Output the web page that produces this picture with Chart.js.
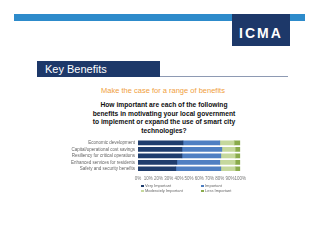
<!DOCTYPE html>
<html lang="en">
<head>
  <meta charset="UTF-8" />
  <title>Key Benefits</title>
  <script src="https://cdn.jsdelivr.net/npm/chart.js"></script>
  <style>
    body { margin: 0; width: 320px; height: 247px; background: #fff; position: relative; overflow: hidden; font-family: "Liberation Sans", Arial, sans-serif; }
    .abs { position: absolute; }
    #topbar { left: 14px; top: 14px; width: 291px; height: 7px; background: #2d8bcb; }
    #logo { left: 232px; top: 14px; width: 58px; height: 32px; background: #1d3869; color: #fff; font-weight: bold; font-size: 14px; letter-spacing: 2px; text-align: center; line-height: 38px; }
    #keybox { left: 37px; top: 61px; width: 123px; height: 16px; background: #1d3869; color: #fff; font-size: 11px; line-height: 16px; padding-left: 8px; box-sizing: border-box; }
    #keyline { left: 160px; top: 76px; width: 128px; height: 1px; background: #8e9ab3; }
    #subtitle { left: 63px; width: 200px; top: 86px; text-align: center; color: #f0a040; font-size: 7.5px; }
    #title { left: 64px; width: 200px; top: 101px; text-align: center; font-weight: bold; font-size: 6.7px; line-height: 8.5px; color: #111; }
    #chart { left: 0; top: 134px; }
    #legend { left: 141px; top: 183px; display: grid; grid-template-columns: 60px 60px; font-family: "Liberation Sans Narrow", "Arial Narrow", sans-serif; font-size: 4px; color: #666; line-height: 5px; }
    #legend span.box { display: inline-block; width: 2.5px; height: 2.5px; margin-right: 1.5px; vertical-align: middle; }
  </style>
</head>
<body>
  <div id="topbar" class="abs"></div>
  <div id="logo" class="abs">ICMA</div>
  <div id="keybox" class="abs">Key Benefits</div>
  <div id="keyline" class="abs"></div>
  <div id="subtitle" class="abs">Make the case for a range of benefits</div>
  <div id="title" class="abs">How important are each of the following<br>benefits in motivating your local government<br>to implement or expand the use of smart city<br>technologies?</div>
  <canvas id="chart" class="abs" width="250" height="50"></canvas>
  <div id="legend" class="abs"></div>

  <script>
    // data (percent of respondents)
    const categories = [
      'Economic development',
      'Capital/operational cost savings',
      'Resiliency for critical operations',
      'Enhanced services for residents',
      'Safety and security benefits'
    ];
    const seriesNames = ['Very Important', 'Important', 'Moderately Important', 'Less Important'];
    const veryImportant = [44, 43, 43, 38, 37];
    const important = [36, 39, 38, 42, 44];
    const moderatelyImportant = [14, 13, 14, 15, 14];
    const lessImportant = [6, 5, 5, 5, 5];
    const seriesColors = ['#1f3d6d', '#4f7fc2', '#c5d89c', '#8aab4c'];

    const seriesData = [veryImportant, important, moderatelyImportant, lessImportant];
    const labelFont = { family: '"Liberation Sans Narrow", "Arial Narrow", sans-serif', size: 4.5 };

    const datasets = seriesNames.map((name, i) => ({
      label: name,
      data: seriesData[i],
      backgroundColor: seriesColors[i],
      borderWidth: 0,
      barThickness: 4
    }));

    new Chart(document.getElementById('chart'), {
      type: 'bar',
      data: { labels: categories, datasets: datasets },
      options: {
        indexAxis: 'y',
        responsive: false,
        animation: false,
        layout: { padding: { top: 5, right: 8, left: 0, bottom: 0 } },
        plugins: { legend: { display: false }, tooltip: { enabled: false } },
        scales: {
          x: {
            stacked: true,
            min: 0,
            max: 100,
            grid: { display: false, drawTicks: false },
            border: { display: false },
            ticks: {
              stepSize: 10,
              autoSkip: false,
              maxRotation: 0,
              padding: 4,
              color: '#777',
              font: labelFont,
              callback: (v) => v + '%'
            },
            afterFit: (scale) => { scale.height = 12; }
          },
          y: {
            stacked: true,
            grid: { display: false, drawTicks: false },
            border: { display: false },
            ticks: { autoSkip: false, padding: 3, color: '#666', font: labelFont },
            afterFit: (scale) => { scale.width = 138; }
          }
        }
      }
    });

    // legend, two columns like the original
    const legend = document.getElementById('legend');
    seriesNames.forEach((name, i) => {
      const item = document.createElement('div');
      item.innerHTML = `<span class="box" style="background:${seriesColors[i]}"></span>${name}`;
      legend.appendChild(item);
    });
  </script>
</body>
</html>
